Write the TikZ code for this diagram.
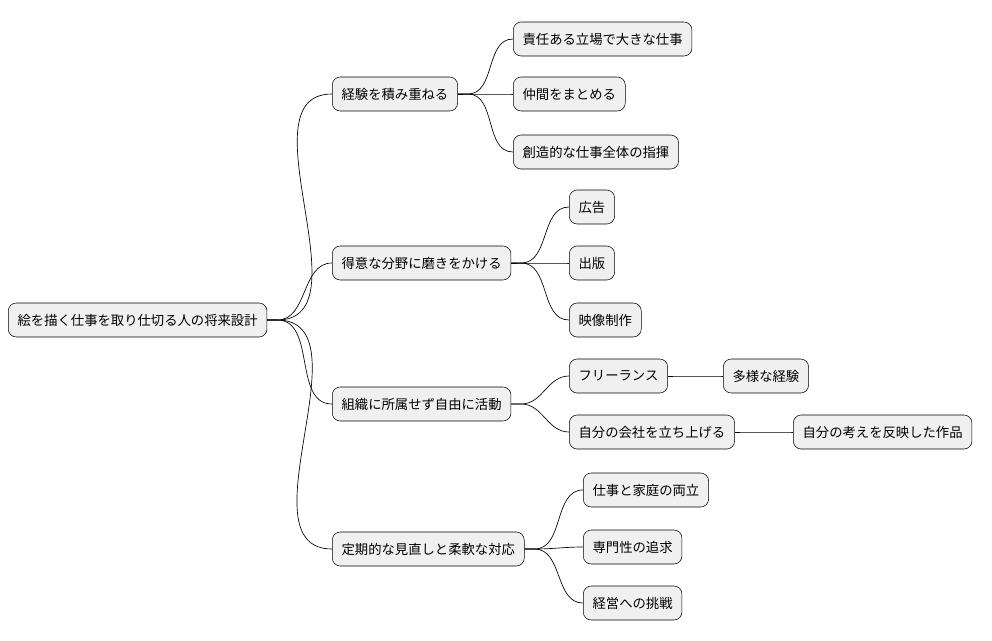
\documentclass[tikz,border=0pt]{standalone}
\usepackage{fontspec}
\newfontfamily\cjk{Noto Sans CJK JP}
\begin{document}
\begin{tikzpicture}[x=0.75pt,y=-0.75pt]
        \tikzset{
          topic/.style={draw=black, fill=black!6, rounded corners=6pt, anchor=west, minimum height=25.5pt, inner xsep=7pt, font=\cjk\fontsize{10}{12}\selectfont},
          link/.style={draw=black, line width=0.5pt}
        }
        \useasboundingbox (0,0) rectangle (992,640);

        \node[topic] (root) at (8,320){絵を描く仕事を取り仕切る人の将来設計};

        \node[topic] (A) at (332,94){経験を積み重ねる};
        \node[topic] (B) at (332,263){得意な分野に磨きをかける};
        \node[topic] (C) at (332,404){組織に所属せず自由に活動};
        \node[topic] (D) at (332,549){定期的な見直しと柔軟な対応};

        \node[topic] (A1) at (513,39){責任ある立場で大きな仕事};
        \node[topic] (A2) at (513,94){仲間をまとめる};
        \node[topic] (A3) at (513,152){創造的な仕事全体の指揮};

        \node[topic] (B1) at (569,207){広告};
        \node[topic] (B2) at (569,263){出版};
        \node[topic] (B3) at (569,320){映像制作};

        \node[topic] (C1) at (569,376){フリーランス};
        \node[topic] (C2) at (569,432){自分の会社を立ち上げる};
        \node[topic] (C11) at (723,376){多様な経験};
        \node[topic] (C21) at (793,432){自分の考えを反映した作品};

        \node[topic] (D1) at (583,490){仕事と家庭の両立};
        \node[topic] (D2) at (583,547){専門性の追求};
        \node[topic] (D3) at (583,603){経営への挑戦};

        \foreach \p/\c in {root/A,root/B,root/C,root/D,A/A1,A/A2,A/A3,B/B1,B/B2,B/B3,C/C1,C/C2,C1/C11,C2/C21,D/D1,D/D2,D/D3}
          \draw[link] (\p.east) -- ++(10,0) to[out=0,in=180] (\c.west);

    \end{tikzpicture}
\end{document}
